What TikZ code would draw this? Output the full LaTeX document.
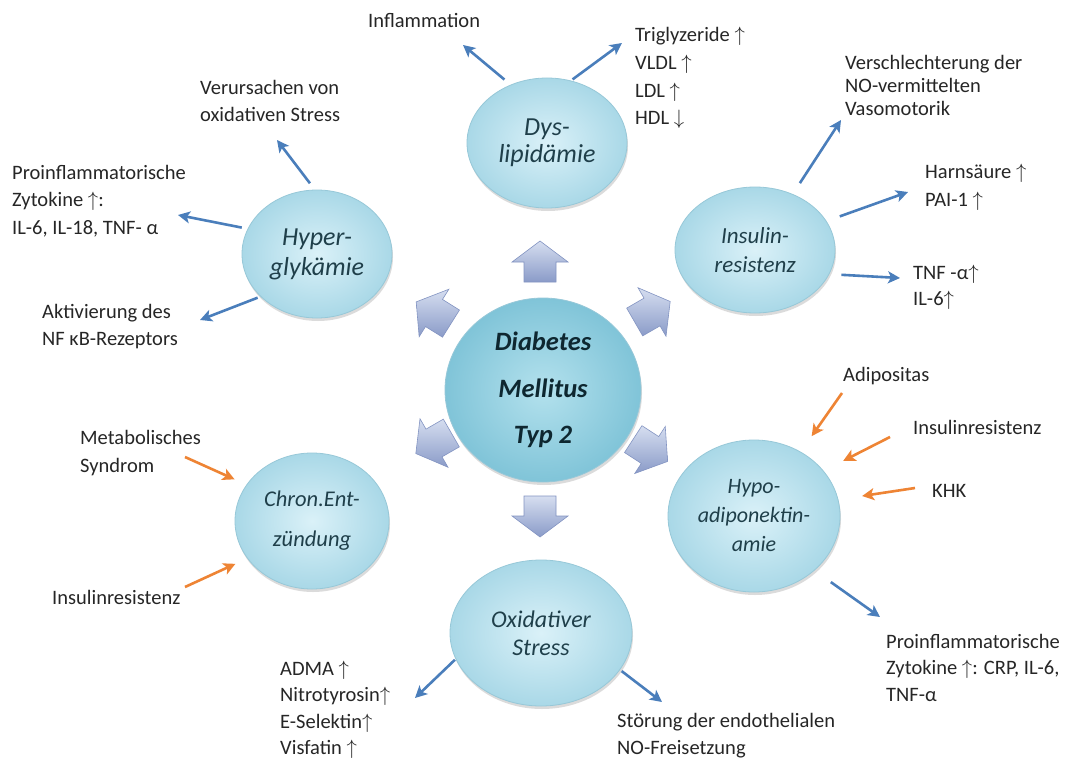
\documentclass[tikz,border=0pt]{standalone}
\usepackage{fontspec}
\setmainfont{Carlito}
\usetikzlibrary{shapes.geometric,shadows,arrows.meta}
\definecolor{bubin}{HTML}{DAF1F8}
\definecolor{bubout}{HTML}{A9D8E7}
\definecolor{bubline}{HTML}{97C8D8}
\definecolor{cenin}{HTML}{B3E1ED}
\definecolor{cenout}{HTML}{80C4D8}
\definecolor{bubtext}{HTML}{1F3F4A}
\definecolor{centext}{HTML}{0E2730}
\definecolor{lbltext}{HTML}{262626}
\definecolor{arrblue}{HTML}{4A7EBB}
\definecolor{arrorange}{HTML}{EE8434}
\definecolor{blktop}{HTML}{D6DEF0}
\definecolor{blkbot}{HTML}{8A9BC8}
\definecolor{blkline}{HTML}{8394C2}
\newcommand\blkarrow[2]{\begin{scope}[shift={#1},rotate=#2]
  \shade[top color=blktop,bottom color=blkbot,draw=blkline,line width=0.6pt]
  (-20,-16) -- (0,-16) -- (0,-28) -- (21,0) -- (0,28) -- (0,16) -- (-20,16) -- cycle;
\end{scope}}
\begin{document}
\begin{tikzpicture}[x=1pt,y=-1pt,
  bub/.style={ellipse, inner sep=0pt, inner color=bubin, outer color=bubout,
    draw=bubline, line width=0.8pt,
    drop shadow={opacity=0.28, shadow xshift=1pt, shadow yshift=-3pt},
    align=center, text=bubtext},
  cen/.style={bub, inner color=cenin, outer color=cenout, text=centext},
  lbl/.style={anchor=north west, inner sep=0pt, align=left, text=lbltext,
    font=\fontsize{20.5}{27.5}\selectfont},
  bl/.style={draw=arrblue, line width=2.6pt, -{Stealth[length=12pt,width=12pt,inset=3pt]}},
  og/.style={draw=arrorange, line width=2.6pt, -{Stealth[length=12pt,width=12pt,inset=3pt]}}]
\useasboundingbox[fill=white] (0,0) rectangle (1075,762);

% block arrows from the centre
\blkarrow{(540,262)}{90}
\blkarrow{(434,313)}{148}
\blkarrow{(652,312)}{30}
\blkarrow{(434,443)}{210}
\blkarrow{(650,450)}{-33}
\blkarrow{(540,516)}{-90}

% bubbles
\node[cen, minimum width=196pt, minimum height=184pt,
  font=\fontsize{26.5}{46.5}\selectfont\bfseries\itshape] (dm) at (543,390) {Diabetes\\Mellitus\\Typ 2};
\node[bub, minimum width=160pt, minimum height=130pt,
  font=\fontsize{26}{27}\selectfont\itshape] (dys) at (547,143) {Dys-\\lipidämie};
\node[bub, minimum width=160pt, minimum height=126pt,
  font=\fontsize{23}{29}\selectfont\itshape] (ins) at (755,250) {Insulin-\\resistenz};
\node[bub, minimum width=150pt, minimum height=128pt,
  font=\fontsize{26}{30}\selectfont\itshape] (hyp) at (317,254) {Hyper-\\glykämie};
\node[bub, minimum width=154pt, minimum height=136pt,
  font=\fontsize{22.5}{40}\selectfont\itshape] (chr) at (312,521) {Chron.Ent-\\zündung};
\node[bub, minimum width=172pt, minimum height=152pt,
  font=\fontsize{22}{29}\selectfont\itshape] (hpo) at (754,516) {Hypo-\\adiponektin-\\amie};
\node[bub, minimum width=182pt, minimum height=146pt,
  font=\fontsize{24}{27.5}\selectfont\itshape] (oxi) at (541,633) {Oxidativer\\Stress};

% labels
\node[lbl] (infl) at (368,13) {Inflammation};
\node[lbl, font=\fontsize{20.5}{27.7}\selectfont] (trig) at (635,27) {Triglyzeride $\uparrow$\\VLDL $\uparrow$\\LDL $\uparrow$\\HDL $\downarrow$};
\node[lbl, font=\fontsize{20.5}{23}\selectfont] (vers) at (845,55) {Verschlechterung der\\NO-vermittelten\\Vasomotorik};
\node[lbl] (harn) at (925,164) {Harnsäure $\uparrow$\\PAI-1 $\uparrow$};
\node[lbl, font=\fontsize{20.5}{25.5}\selectfont] (tnf) at (913,265) {TNF -α$\uparrow$\\IL-6$\uparrow$};
\node[lbl] (verur) at (200,80) {Verursachen von\\oxidativen Stress};
\node[lbl] (prol) at (12,165) {Proinflammatorische\\Zytokine $\uparrow$:\\IL-6, IL-18, TNF- α};
\node[lbl] (akt) at (42,304) {Aktivierung des\\NF κB-Rezeptors};
\node[lbl, font=\fontsize{20.5}{28.5}\selectfont] (meta) at (80,430) {Metabolisches\\Syndrom};
\node[lbl] (insl) at (52,590) {Insulinresistenz};
\node[lbl, font=\fontsize{20.5}{26.3}\selectfont] (adma) at (280,661) {ADMA $\uparrow$\\Nitrotyrosin$\uparrow$\\E-Selektin$\uparrow$\\Visfatin $\uparrow$};
\node[lbl] (stor) at (617,713) {Störung der endothelialen\\NO-Freisetzung};
\node[lbl] (adip) at (843,367) {Adipositas};
\node[lbl] (insr) at (913,420) {Insulinresistenz};
\node[lbl] (khk) at (932,484) {KHK};
\node[lbl, font=\fontsize{20.5}{26.5}\selectfont] (pror) at (886,634) {Proinflammatorische\\Zytokine $\uparrow$: CRP, IL-6,\\TNF-α};

% free ends
\coordinate (e1) at (463,45);
\coordinate (e2) at (622,43);
\coordinate (e3) at (841,120);
\coordinate (e4) at (908,192);
\coordinate (e5) at (900,278);
\coordinate (e6) at (277,140);
\coordinate (e7) at (178,215);
\coordinate (e8) at (200,320);
\coordinate (e9) at (880,617);
\coordinate (e10) at (415,698);
\coordinate (e11) at (662,702);
\coordinate (s1) at (185,457);
\coordinate (s2) at (185,587);
\coordinate (s3) at (842,393);
\coordinate (s4) at (890,437);
\coordinate (s5) at (915,488);

% blue connectors
\draw[bl, shorten <=8pt] (dys.122) -- (e1);
\draw[bl, shorten <=2pt] (dys.69) -- (e2);
\draw[bl, shorten <=13pt] (ins.56) -- (e3);
\draw[bl, shorten <=14pt] (ins.22) -- (e4);
\draw[bl, shorten <=12pt] (ins.-18) -- (e5);
\draw[bl, shorten <=8pt] (hyp.92) -- (e6);
\draw[bl, shorten <=6pt] (hyp.160) -- (e7);
\draw[bl, shorten <=3pt] (hyp.217) -- (e8);
\draw[bl, shorten <=20pt] (hpo.-42) -- (e9);
\draw[bl, shorten <=1pt] (oxi.197) -- (e10);
\draw[bl, shorten <=2pt] (oxi.-25) -- (e11);

% orange connectors
\draw[og, shorten >=13pt] (s1) -- (chr.151);
\draw[og, shorten >=13pt] (s2) -- (chr.210);
\draw[og, shorten >=19pt] (s3) -- (hpo.54);
\draw[og, shorten >=22pt] (s4) -- (hpo.33);
\draw[og, shorten >=24pt] (s5) -- (hpo.11);
\end{tikzpicture}
\end{document}
